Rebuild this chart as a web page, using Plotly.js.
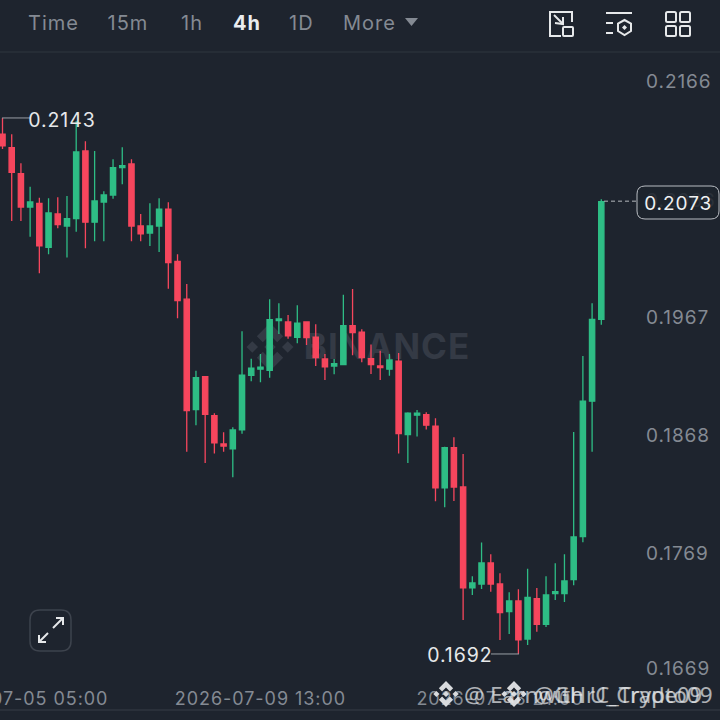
<!DOCTYPE html>
<html>
<head>
<meta charset="utf-8">
<script src="https://cdn.plot.ly/plotly-3.0.1.min.js"></script>
<style>
    html, body { margin: 0; padding: 0; background: #1e242e; }
    #chart { width: 720px; height: 720px; }
    /* the app's typeface runs wider than anything installed here */
    #chart text { letter-spacing: 0.95px; }
    #chart .annotation[data-index="9"] text, #chart .annotation[data-index="10"] text { letter-spacing: 0; }
</style>
</head>
<body>
<div id="chart"></div>
<script>
( function() {
    'use strict';

    var times = [
        '2026-07-04 21:00', '2026-07-05 01:00', '2026-07-05 05:00', '2026-07-05 09:00', '2026-07-05 13:00', '2026-07-05 17:00',
        '2026-07-05 21:00', '2026-07-06 01:00', '2026-07-06 05:00', '2026-07-06 09:00', '2026-07-06 13:00', '2026-07-06 17:00',
        '2026-07-06 21:00', '2026-07-07 01:00', '2026-07-07 05:00', '2026-07-07 09:00', '2026-07-07 13:00', '2026-07-07 17:00',
        '2026-07-07 21:00', '2026-07-08 01:00', '2026-07-08 05:00', '2026-07-08 09:00', '2026-07-08 13:00', '2026-07-08 17:00',
        '2026-07-08 21:00', '2026-07-09 01:00', '2026-07-09 05:00', '2026-07-09 09:00', '2026-07-09 13:00', '2026-07-09 17:00',
        '2026-07-09 21:00', '2026-07-10 01:00', '2026-07-10 05:00', '2026-07-10 09:00', '2026-07-10 13:00', '2026-07-10 17:00',
        '2026-07-10 21:00', '2026-07-11 01:00', '2026-07-11 05:00', '2026-07-11 09:00', '2026-07-11 13:00', '2026-07-11 17:00',
        '2026-07-11 21:00', '2026-07-12 01:00', '2026-07-12 05:00', '2026-07-12 09:00', '2026-07-12 13:00', '2026-07-12 17:00',
        '2026-07-12 21:00', '2026-07-13 01:00', '2026-07-13 05:00', '2026-07-13 09:00', '2026-07-13 13:00', '2026-07-13 17:00',
        '2026-07-13 21:00', '2026-07-14 01:00', '2026-07-14 05:00', '2026-07-14 09:00', '2026-07-14 13:00', '2026-07-14 17:00',
        '2026-07-14 21:00', '2026-07-15 01:00', '2026-07-15 05:00', '2026-07-15 09:00', '2026-07-15 13:00', '2026-07-15 17:00'
    ];

    var opens = [
        .21293, .21180, .20961, .20681, .20712, .20342, .20622, .20521, .20583, .21152, .20553,
        .20723, .20782, .21012, .21043, .20521, .20462, .20521, .20662, .20224, .19905, .18976,
        .19253, .18925, .18687, .18645, .18805, .19265, .19316, .19307, .19725, .19714, .19585,
        .19714, .19585, .19402, .19343, .19354, .19683, .19627, .19405, .19343, .19316, .19383,
        .18765, .18929, .18934, .18836, .18317, .18656, .18325, .17476, .17509, .17686, .17509,
        .17276, .17366, .17046, .17386, .17170, .17428, .17428, .17545, .17907, .19047, .19736
    ];
    var highs = [
        .21430, .21293, .21049, .20852, .20759, .20754, .20763, .20774, .21405, .21234, .21152,
        .20813, .21083, .21184, .21083, .20622, .20712, .20754, .20721, .20283, .20033, .19304,
        .19253, .18946, .18786, .18828, .19635, .19405, .19444, .19905, .19871, .19773, .19854,
        .19714, .19694, .19444, .19402, .19943, .19991, .19652, .19523, .19472, .19444, .19453,
        .18954, .18973, .18954, .18903, .18664, .18744, .18603, .17574, .17857, .17759, .17599,
        .17439, .17465, .17638, .17476, .17574, .17683, .17759, .18788, .19428, .19871, .20746
    ];
    var lows = [
        .21169, .20563, .20563, .20431, .20123, .20283, .20502, .20255, .20473, .20334, .20393,
        .20393, .20751, .20872, .20393, .20393, .20353, .20303, .19994, .19745, .18622, .18845,
        .18527, .18606, .18622, .18407, .18774, .19215, .19206, .19245, .19613, .19573, .19534,
        .19520, .19343, .19226, .19274, .19354, .19433, .19375, .19276, .19226, .19262, .18606,
        .18527, .18749, .18808, .18205, .18155, .18208, .17206, .17417, .17467, .17444, .17038,
        .17088, .16920, .16996, .17108, .17147, .17375, .17358, .17498, .17860, .18622, .19691
    ];
    var closes = [
        .21195, .20973, .20681, .20723, .20353, .20631, .20532, .20583, .21144, .20553, .20732,
        .20782, .21012, .21029, .20521, .20454, .20521, .20662, .20213, .19893, .18967, .19245,
        .18937, .18696, .18670, .18805, .19265, .19324, .19333, .19733, .19739, .19596, .19703,
        .19582, .19413, .19335, .19363, .19683, .19624, .19413, .19354, .19329, .19394, .18774,
        .18946, .18946, .18845, .18317, .18656, .18325, .17476, .17518, .17686, .17509, .17268,
        .17366, .17038, .17397, .17170, .17417, .17444, .17534, .17905, .19047, .19736, .20726
    ];

    // the bottom label is held up from the edge in the app, hence .16725 for 0.1669
    var priceTicks = [ 0.2166, 0.2066, 0.1967, 0.1868, 0.1769, 0.16725 ];
    var priceLabels = [ '0.2166', '0.2066', '0.1967', '0.1868', '0.1769', '0.1669' ];
    var timeTicks = [ '2026-07-05 05:00', '2026-07-09 13:00', '2026-07-13 21:00' ];
    var timeLabels = [ '2026-07-05 05:00', '2026-07-09 13:00', '2026-07-13 21:00' ];
    var toolbarLabels = [ 'Time', '15m', '1h', '4h', '1D', 'More' ];
    var toolbarLefts = [ 28, 107, 180, 232, 288, 343 ];
    var highPrice = 0.2143;
    var lowPrice = 0.1692;
    var lastPrice = 0.2073;

    var BG = '#1e242e';
    var FONT = 'Inter, sans-serif';
    var GRAY = '#848a93';
    var PALE = '#e6e8ea';

    // all the page furniture below is placed in pixels of the 720 square
    var px = ( x ) => x / 720;
    var py = ( y ) => 1 - y / 720;

    var poly = ( pts, close ) => {
        var s = pts.map( ( p, i ) => ( i ? 'L' : 'M' ) + px( p[0] ) + ',' + py( p[1] ) ).join( ' ' );
        return close ? s + ' Z' : s;
    };

    var roundRect = ( x0, y0, x1, y1, r ) => {
        return 'M' + px( x0 + r ) + ',' + py( y0 ) +
            ' L' + px( x1 - r ) + ',' + py( y0 ) +
            ' Q' + px( x1 ) + ',' + py( y0 ) + ' ' + px( x1 ) + ',' + py( y0 + r ) +
            ' L' + px( x1 ) + ',' + py( y1 - r ) +
            ' Q' + px( x1 ) + ',' + py( y1 ) + ' ' + px( x1 - r ) + ',' + py( y1 ) +
            ' L' + px( x0 + r ) + ',' + py( y1 ) +
            ' Q' + px( x0 ) + ',' + py( y1 ) + ' ' + px( x0 ) + ',' + py( y1 - r ) +
            ' L' + px( x0 ) + ',' + py( y0 + r ) +
            ' Q' + px( x0 ) + ',' + py( y0 ) + ' ' + px( x0 + r ) + ',' + py( y0 ) + ' Z';
    };

    var stroke = ( path, color, width, layer ) => ( {
        type: 'path', xref: 'paper', yref: 'paper', path: path, layer: layer || 'above',
        line: { color: color, width: width || 2 }
    } );

    var fill = ( path, color, layer ) => ( {
        type: 'path', xref: 'paper', yref: 'paper', path: path, layer: layer || 'above',
        fillcolor: color, line: { width: 0 }
    } );

    // binance diamond: four corners and a centre
    var logo = ( cx, cy, r, color, layer ) => {
        var d = ( x, y, s ) => poly( [ [ x, y - s ], [ x + s, y ], [ x, y + s ], [ x - s, y ] ], true );
        var out = [ fill( d( cx, cy, r * 0.24 ), color, layer ), fill( d( cx - r * 0.74, cy, r * 0.24 ), color, layer ), fill( d( cx + r * 0.74, cy, r * 0.24 ), color, layer ) ];
        out.push( fill( poly( [ [ cx, cy - r ], [ cx + r * 0.55, cy - r * 0.45 ], [ cx + r * 0.3, cy - r * 0.2 ], [ cx, cy - r * 0.5 ], [ cx - r * 0.3, cy - r * 0.2 ], [ cx - r * 0.55, cy - r * 0.45 ] ], true ), color, layer ) );
        out.push( fill( poly( [ [ cx, cy + r ], [ cx + r * 0.55, cy + r * 0.45 ], [ cx + r * 0.3, cy + r * 0.2 ], [ cx, cy + r * 0.5 ], [ cx - r * 0.3, cy + r * 0.2 ], [ cx - r * 0.55, cy + r * 0.45 ] ], true ), color, layer ) );
        return out;
    };

    var shapes = [
        stroke( poly( [ [ 0, 52 ], [ 720, 52 ] ] ), '#2a303a', 1.5 ),
        stroke( poly( [ [ 0, 710 ], [ 720, 710 ] ] ), '#363c46', 1 ),

        // watermark behind the candles
        {
            type: 'rect', xref: 'paper', yref: 'paper', layer: 'below',
            x0: px( 298 ), x1: px( 476 ), y0: py( 364 ), y1: py( 326 ),
            line: { width: 0 },
            label: { text: '<b>BINANCE</b>', textposition: 'middle center', font: { family: FONT, size: 35, color: '#343a45' } }
        },

        // toolbar
        fill( poly( [ [ 405, 18 ], [ 418, 18 ], [ 411.5, 26 ] ], true ), GRAY ),

        stroke( 'M' + px( 561 ) + ',' + py( 36 ) + ' L' + px( 550 ) + ',' + py( 36 ) + ' L' + px( 550 ) + ',' + py( 12 ) + ' L' + px( 572 ) + ',' + py( 12 ) + ' L' + px( 572 ) + ',' + py( 22 ), PALE, 2 ),
        stroke( roundRect( 563, 27, 573, 36, 1 ), PALE, 2 ),
        stroke( poly( [ [ 554, 15 ], [ 563, 24 ] ] ), PALE, 2 ),
        stroke( poly( [ [ 555, 23 ], [ 563, 24 ], [ 563, 17 ] ] ), PALE, 2 ),

        stroke( poly( [ [ 606, 13 ], [ 632, 13 ] ] ), PALE, 2 ),
        stroke( poly( [ [ 606, 23 ], [ 613, 23 ] ] ), PALE, 2 ),
        stroke( poly( [ [ 606, 33 ], [ 613, 33 ] ] ), PALE, 2 ),
        stroke( poly( [ [ 624.5, 20 ], [ 631, 23.5 ], [ 631, 31 ], [ 624.5, 35 ], [ 618, 31 ], [ 618, 23.5 ] ], true ), PALE, 2 ),
        fill( poly( [ [ 624.5, 25 ], [ 627, 27.5 ], [ 624.5, 30 ], [ 622, 27.5 ] ], true ), PALE ),

        stroke( roundRect( 666, 12, 676, 22, 1.5 ), PALE, 2 ),
        stroke( roundRect( 680, 12, 690, 22, 1.5 ), PALE, 2 ),
        stroke( roundRect( 666, 26, 676, 36, 1.5 ), PALE, 2 ),
        stroke( roundRect( 680, 26, 690, 36, 1.5 ), PALE, 2 ),

        // expand button
        stroke( roundRect( 30, 610, 71, 651, 10 ), '#3d434d', 1.5 ),
        stroke( poly( [ [ 53, 628 ], [ 63, 618 ] ] ), PALE, 2 ),
        stroke( poly( [ [ 56, 618 ], [ 63, 618 ], [ 63, 625 ] ] ), PALE, 2 ),
        stroke( poly( [ [ 48, 633 ], [ 39, 642 ] ] ), PALE, 2 ),
        stroke( poly( [ [ 39, 635 ], [ 39, 642 ], [ 46, 642 ] ] ), PALE, 2 ),

        // high, low and last price leaders, hung on the price axis
        { type: 'line', xref: 'paper', yref: 'y', x0: px( 2 ), x1: px( 30 ), y0: highPrice, y1: highPrice, line: { color: '#9a9fa6', width: 1 } },
        { type: 'line', xref: 'paper', yref: 'y', x0: px( 491 ), x1: px( 519 ), y0: lowPrice, y1: lowPrice, line: { color: '#9a9fa6', width: 1 } },
        { type: 'line', xref: 'paper', yref: 'y', x0: px( 604 ), x1: px( 637 ), y0: lastPrice, y1: lastPrice, line: { color: '#b5b9be', width: 1, dash: '4px,3px' } },

        // last price box
        {
            type: 'path', xref: 'paper', yref: 'paper', path: roundRect( 637, 186, 719, 219, 8 ),
            fillcolor: 'rgba(30,36,46,0.88)', line: { color: '#b8bcc2', width: 1 }
        }
    ];
    shapes = shapes.concat( logo( 270, 347, 24, '#343a45', 'below' ) );
    shapes = shapes.concat( logo( 446, 694, 13, '#d8dadd' ) );
    shapes = shapes.concat( logo( 514, 694, 13, '#d8dadd' ) );

    var annotations = toolbarLabels.map( ( label, i ) => ( {
        xref: 'paper', yref: 'paper', x: px( toolbarLefts[ i ] ), y: py( 23 ),
        xanchor: 'left', yanchor: 'middle', showarrow: false, text: label === '4h' ? '<b>4h</b>' : label,
        font: { family: FONT, size: 20, color: label === '4h' ? '#eaecef' : GRAY }
    } ) );

    annotations.push(
        { xref: 'paper', yref: 'y', x: px( 29 ), y: highPrice, yshift: -2, xanchor: 'left', yanchor: 'middle', showarrow: false, text: '0.2143', font: { family: FONT, size: 19.5, color: PALE } },
        { xref: 'paper', yref: 'y', x: px( 492 ), y: lowPrice, yshift: -1, xanchor: 'right', yanchor: 'middle', showarrow: false, text: '0.1692', font: { family: FONT, size: 19.5, color: PALE } },
        { xref: 'paper', yref: 'y', x: px( 645 ), y: lastPrice, yshift: -2, xanchor: 'left', yanchor: 'middle', showarrow: false, text: '0.2073', font: { family: FONT, size: 19, color: '#f0f1f2' } },
        { xref: 'paper', yref: 'paper', x: px( 462 ), y: py( 694 ), xanchor: 'left', yanchor: 'middle', showarrow: false, text: '@ Earnwith U_Crypto09', opacity: 0.72, font: { family: 'Noto Sans, sans-serif', size: 22.5, color: '#e6e8ea' } },
        { xref: 'paper', yref: 'paper', x: px( 532 ), y: py( 694 ), xanchor: 'left', yanchor: 'middle', showarrow: false, text: '@GHrC_Trade09', opacity: 0.72, font: { family: 'Noto Sans, sans-serif', size: 22, color: '#e6e8ea' } }
    );

    var candles = {
        type: 'candlestick',
        x: times, open: opens, high: highs, low: lows, close: closes,
        increasing: { line: { color: '#2ebd85', width: 1.3 }, fillcolor: '#2ebd85' },
        decreasing: { line: { color: '#f6465d', width: 1.3 }, fillcolor: '#f6465d' },
        whiskerwidth: 0,
        hoverinfo: 'skip'
    };

    var layout = {
        width: 720, height: 720,
        margin: { l: 0, r: 0, t: 0, b: 0 },
        paper_bgcolor: BG, plot_bgcolor: BG,
        showlegend: false,
        boxgap: 0.18,
        font: { family: FONT },
        xaxis: {
            type: 'date', domain: [ 0, px( 640 ) ],
            range: [ '2026-07-04 19:55', '2026-07-16 09:48' ],
            rangeslider: { visible: false },
            showgrid: false, zeroline: false, showline: false, ticks: '',
            tickmode: 'array', tickvals: timeTicks, ticktext: timeLabels,
            tickangle: 0, ticklabeloverflow: 'allow',
            ticklabelstandoff: 1,
            tickfont: { family: FONT, size: 18, color: GRAY }
        },
        yaxis: {
            domain: [ py( 685 ), py( 52 ) ], side: 'right', anchor: 'x',
            range: [ 0.16659, 0.21985 ],
            showgrid: false, zeroline: false, showline: false, ticks: '',
            tickmode: 'array', tickvals: priceTicks, ticktext: priceLabels,
            ticklabelposition: 'outside top', ticklabeloverflow: 'allow',
            ticklabelstandoff: 5, ticklabelshift: 4,
            tickfont: { family: FONT, size: 19, color: GRAY }
        },
        shapes: shapes,
        annotations: annotations
    };

    document.addEventListener( 'DOMContentLoaded', function() {
        Plotly.newPlot( 'chart', [ candles ], layout, { displayModeBar: false, staticPlot: true } );
    } );
} )();
</script>
</body>
</html>
